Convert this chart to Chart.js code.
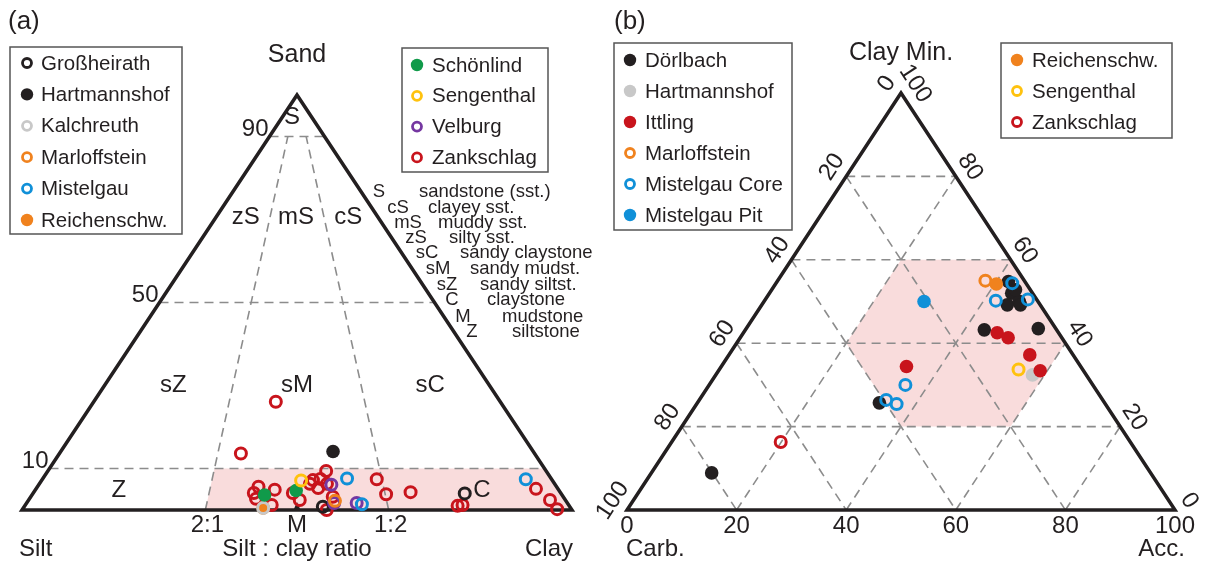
<!DOCTYPE html>
<html>
<head>
<meta charset="utf-8">
<script src="https://cdn.jsdelivr.net/npm/chart.js@4.4.1/dist/chart.umd.min.js"></script>
<style>
html, body { margin: 0; padding: 0; background: #fff; }
#wrap { position: relative; width: 1210px; height: 562px; }
#wrap canvas { position: absolute; top: 0; }
#chartA { left: 0; }
#chartB { left: 590px; }
</style>
</head>
<body>
<div id="wrap">
  <canvas id="chartA" width="600" height="562"></canvas>
  <canvas id="chartB" width="620" height="562"></canvas>
</div>
<script>
// ---- panel (a): grain size, [sand, silt, clay] in %
const aGrossheirath = [[0.8, 44.9, 54.3], [4.0, 17.5, 78.5]];
const aHartmannshof = [[14.1, 36.4, 49.5]];
const aKalchreuth = [[0.5, 55.9, 43.6]];
const aMarloffstein = [[2.2, 42.0, 55.8]];
const aMistelgau = [[7.6, 37.1, 55.3], [1.4, 37.5, 61.1], [7.4, 4.7, 87.9]];
const aReichenschw = [[0.5, 55.9, 43.6]];
const aSchoenlind = [[3.6, 54.1, 42.3], [4.7, 47.8, 47.5]];
const aSengenthal = [[7.1, 45.7, 47.2]];
const aVelburg = [[6.1, 40.7, 53.2], [1.7, 42.4, 55.9], [1.7, 38.3, 60.0]];
const aZankschlag = [
  [26.1, 40.8, 33.1], [13.6, 53.4, 33.0], [9.4, 40.0, 50.6], [7.2, 43.5, 49.3],
  [7.5, 42.0, 50.5], [6.3, 41.4, 52.3], [5.3, 43.5, 51.2], [6.3, 44.5, 49.2],
  [2.4, 48.3, 49.3], [4.1, 48.7, 47.2], [5.6, 54.2, 40.2], [4.9, 51.6, 43.5],
  [2.7, 56.1, 41.2], [1.2, 54.0, 44.8], [4.1, 55.8, 40.1], [3.2, 41.9, 54.9],
  [0.0, 44.6, 55.4], [7.4, 31.8, 60.8], [3.8, 31.9, 64.3], [4.3, 27.2, 68.5],
  [1.0, 20.3, 78.7], [1.2, 19.3, 79.5], [5.1, 4.0, 90.9], [2.4, 2.8, 94.8],
  [0.2, 2.6, 97.2]
];
const sandLines = [10, 50, 90];
const ratioLines = [1 / 3, 2 / 3];          // clay share of silt+clay
const ratioLabels = ['2:1', '1:2'];
const abbrCodes = ['S', 'cS', 'mS', 'zS', 'sC', 'sM', 'sZ', 'C', 'M', 'Z'];
const abbrNames = ['sandstone (sst.)', 'clayey sst.', 'muddy sst.', 'silty sst.', 'sandy claystone',
  'sandy mudst.', 'sandy siltst.', 'claystone', 'mudstone', 'siltstone'];
const legendA1 = ['Großheirath', 'Hartmannshof', 'Kalchreuth', 'Marloffstein', 'Mistelgau', 'Reichenschw.'];
const legendA2 = ['Schönlind', 'Sengenthal', 'Velburg', 'Zankschlag'];

// ---- panel (b): mineralogy, [carb, clay min, acc] in %
const bDoerlbach = [[3.0, 54.8, 42.2], [3.8, 52.0, 44.2], [6.0, 49.2, 44.8], [3.4, 50.0, 46.6],
  [2.7, 52.8, 44.5], [3.6, 49.2, 47.2], [13.2, 43.2, 43.6], [3.2, 43.5, 53.3],
  [41.1, 25.7, 33.2], [80.1, 8.9, 11.0]];
const bHartmannshof = [[9.8, 32.4, 57.8]];
const bIttling = [[11.2, 42.5, 46.3], [9.8, 41.3, 48.9], [7.9, 37.2, 54.9], [7.9, 33.4, 58.7], [31.8, 34.4, 33.8]];
const bMarloffstein = [[7.1, 55.0, 37.9]];
const bMistelgauCore = [[2.5, 54.4, 43.1], [7.6, 50.2, 42.2], [1.6, 50.5, 47.9],
  [34.2, 30.0, 35.8], [39.5, 26.4, 34.1], [38.1, 25.4, 36.5]];
const bMistelgauPit = [[20.8, 50.0, 29.2]];
const bReichenschw = [[5.5, 54.2, 40.3]];
const bSengenthal = [[11.7, 33.7, 54.6]];
const bZankschlag = [[63.8, 16.3, 19.9]];
const gridSteps = [20, 40, 60, 80];
const tickSteps = [0, 20, 40, 60, 80, 100];
const hexB = [[20, 60, 20], [0, 60, 40], [0, 40, 60], [20, 20, 60], [40, 20, 40], [40, 40, 20]];
const legendB1 = ['Dörlbach', 'Hartmannshof', 'Ittling', 'Marloffstein', 'Mistelgau Core', 'Mistelgau Pit'];
const legendB2 = ['Reichenschw.', 'Sengenthal', 'Zankschlag'];

const FONT = '"Liberation Sans", Arial, Helvetica, sans-serif';
const INK = '#231f20';
const BLACK = '#231f20', GRAY = '#c8c8c8', RED = '#c8141c', ORANGE = '#f0821e',
  BLUE = '#1090d8', GREEN = '#109a4a', YELLOW = '#ffc20e', PURPLE = '#7537a1';
const PINK = '#f9dcdc';

// ternary -> plot units (x 0..100 across base, y 0..100 up to apex)
const toA = p => ({ x: p[2] + p[0] / 2, y: p[0] });
const toB = p => ({ x: p[2] + p[1] / 2, y: p[1] });

function site(label, pts, color, hollow, order, conv) {
  return {
    label: label,
    data: pts.map(conv),
    hollow: hollow,
    color: color,
    order: order,
    clip: false,
    pointRadius: hollow ? 5.5 : 6.8,
    pointBorderWidth: hollow ? 3 : 0,
    pointBackgroundColor: hollow ? 'rgba(0,0,0,0)' : color,
    pointBorderColor: color
  };
}

function px(chart, x, y) {
  return [chart.scales.x.getPixelForValue(x), chart.scales.y.getPixelForValue(y)];
}

function poly(ctx, pts) {
  ctx.beginPath();
  pts.forEach((p, i) => i ? ctx.lineTo(p[0], p[1]) : ctx.moveTo(p[0], p[1]));
  ctx.closePath();
}

function seg(ctx, a, b) {
  ctx.beginPath();
  ctx.moveTo(a[0], a[1]);
  ctx.lineTo(b[0], b[1]);
  ctx.stroke();
}

function text(ctx, s, x, y, size, align, base) {
  ctx.font = size + 'px ' + FONT;
  ctx.fillStyle = INK;
  ctx.textAlign = align || 'center';
  ctx.textBaseline = base || 'middle';
  ctx.fillText(s, x, y);
}

function drawLegend(chart, names, box, y0, step, mx, tx) {
  const ctx = chart.ctx;
  ctx.save();
  ctx.lineWidth = 1.5;
  ctx.strokeStyle = '#555';
  ctx.strokeRect(box[0], box[1], box[2], box[3]);
  names.forEach((name, i) => {
    const ds = chart.data.datasets.find(d => d.label === name);
    const y = y0 + i * step;
    ctx.beginPath();
    if (ds.hollow) {
      ctx.arc(mx, y, 4.5, 0, Math.PI * 2);
      ctx.lineWidth = 2.8;
      ctx.strokeStyle = ds.color;
      ctx.stroke();
    } else {
      ctx.arc(mx, y, 6.2, 0, Math.PI * 2);
      ctx.fillStyle = ds.color;
      ctx.fill();
    }
    text(ctx, name, tx, y + 1, 20.5, 'left');
  });
  ctx.restore();
}

const plotA = {
  id: 'plotA',
  beforeDatasetsDraw(chart) {
    const ctx = chart.ctx;
    ctx.save();
    // pink field: sand < 10 %, silt:clay below 2:1
    const r = ratioLines[0] * 100;
    poly(ctx, [px(chart, r, 0), px(chart, r * 0.9 + 5, 10), px(chart, 95, 10), px(chart, 100, 0)]);
    ctx.fillStyle = PINK;
    ctx.fill();
    // dashed class boundaries
    ctx.setLineDash([9, 6]);
    ctx.lineWidth = 1.6;
    ctx.strokeStyle = '#8c8c8c';
    sandLines.forEach(s => seg(ctx, px(chart, s / 2, s), px(chart, 100 - s / 2, s)));
    ratioLines.forEach(q => seg(ctx, px(chart, q * 100, 0), px(chart, q * 10 + 45, 90)));
    // outline
    ctx.setLineDash([]);
    ctx.lineWidth = 3.5;
    ctx.lineJoin = 'miter';
    ctx.strokeStyle = INK;
    poly(ctx, [px(chart, 0, 0), px(chart, 50, 100), px(chart, 100, 0)]);
    ctx.stroke();
    // M marker
    const m = px(chart, 50, 0);
    ctx.fillStyle = INK;
    poly(ctx, [[m[0], m[1] - 8], [m[0] - 3.5, m[1]], [m[0] + 3.5, m[1]]]);
    ctx.fill();
    ctx.restore();
  },
  afterDraw(chart) {
    const ctx = chart.ctx;
    ctx.save();
    text(ctx, '(a)', 8, 22, 26, 'left');
    const apex = px(chart, 50, 100);
    text(ctx, 'Sand', apex[0], apex[1] - 40, 25);
    sandLines.forEach(s => {
      const p = px(chart, s / 2, s);
      text(ctx, String(s), p[0] - 1, p[1] - 1, 24, 'right', 'alphabetic');
    });
    ratioLines.forEach((q, i) => {
      const p = px(chart, q * 100, 0);
      text(ctx, ratioLabels[i], p[0] + 2, p[1] + 15, 24);
    });
    const mid = px(chart, 50, 0);
    text(ctx, 'M', mid[0], mid[1] + 15, 24);
    text(ctx, 'Silt : clay ratio', mid[0], mid[1] + 39, 24);
    const l = px(chart, 0, 0), rr = px(chart, 100, 0);
    text(ctx, 'Silt', l[0] - 3, l[1] + 39, 24, 'left');
    text(ctx, 'Clay', rr[0] + 1, rr[1] + 39, 24, 'right');
    // class names in the fields
    [['S', 49.1, 94.6], ['zS', 40.7, 70.4], ['mS', 49.8, 70.4], ['cS', 59.3, 70.4],
     ['sZ', 27.5, 30.1], ['sM', 50, 30.1], ['sC', 74.2, 30.1], ['Z', 17.6, 4.8], ['C', 83.6, 4.8]]
      .forEach(t => {
        const p = px(chart, t[1], t[2]);
        text(ctx, t[0], p[0], p[1], 24);
      });
    // abbreviation key
    const codeX = [379, 398, 408, 416, 427, 438, 447, 452, 463, 472];
    const nameX = [419, 428, 438, 449, 460, 470, 480, 487, 502, 512];
    const keyY = [192, 208, 223, 238, 253, 269, 285, 300, 317, 332];
    abbrCodes.forEach((c, i) => {
      text(ctx, c, codeX[i], keyY[i], 18.5);
      text(ctx, abbrNames[i], nameX[i], keyY[i], 18.5, 'left');
    });
    drawLegend(chart, legendA1, [10, 47, 172, 187], 63, 31.4, 27, 41);
    drawLegend(chart, legendA2, [402, 48, 146, 124], 65, 30.8, 417, 432);
    ctx.restore();
  }
};

const plotB = {
  id: 'plotB',
  beforeDatasetsDraw(chart) {
    const ctx = chart.ctx;
    const T = p => { const u = toB(p); return px(chart, u.x, u.y); };
    ctx.save();
    poly(ctx, hexB.map(T));
    ctx.fillStyle = PINK;
    ctx.fill();
    ctx.setLineDash([9, 6]);
    ctx.lineWidth = 1.6;
    ctx.strokeStyle = '#8c8c8c';
    gridSteps.forEach(v => {
      seg(ctx, T([100 - v, v, 0]), T([0, v, 100 - v]));   // clay min.
      seg(ctx, T([v, 100 - v, 0]), T([v, 0, 100 - v]));   // carb.
      seg(ctx, T([100 - v, 0, v]), T([0, 100 - v, v]));   // acc.
    });
    ctx.setLineDash([]);
    ctx.lineWidth = 3.5;
    ctx.strokeStyle = INK;
    poly(ctx, [T([100, 0, 0]), T([0, 100, 0]), T([0, 0, 100])]);
    ctx.stroke();
    ctx.restore();
  },
  afterDraw(chart) {
    const ctx = chart.ctx;
    const T = p => { const u = toB(p); return px(chart, u.x, u.y); };
    const off = 15;   // canvas starts 15px left of the panel
    ctx.save();
    text(ctx, '(b)', off + 9, 22, 26, 'left');
    const A = T([100, 0, 0]), C = T([0, 100, 0]), B = T([0, 0, 100]);
    text(ctx, 'Clay Min.', C[0], C[1] - 40, 25);
    text(ctx, 'Carb.', A[0] - 1, A[1] + 39, 24, 'left');
    text(ctx, 'Acc.', B[0] + 10, B[1] + 39, 24, 'right');
    // edge ticks, rotated along the edge
    const edgeLabels = (from, to, pt) => {
      const dx = to[0] - from[0], dy = to[1] - from[1], len = Math.hypot(dx, dy);
      const ux = dx / len, uy = dy / len, ang = Math.atan2(uy, ux);
      tickSteps.forEach(v => {
        const p = pt(v);
        ctx.save();
        ctx.translate(p[0] + uy * 17, p[1] - ux * 17);
        ctx.rotate(ang);
        text(ctx, String(v), 0, 0, 24);
        ctx.restore();
      });
    };
    edgeLabels(A, C, v => T([v, 100 - v, 0]));
    edgeLabels(C, B, v => T([0, v, 100 - v]));
    tickSteps.forEach(v => {
      const p = T([100 - v, 0, v]);
      text(ctx, String(v), p[0], p[1] + 16, 24);
    });
    drawLegend(chart, legendB1, [off + 9, 43, 178, 187], 60, 31, off + 25, off + 40);
    drawLegend(chart, legendB2, [off + 396, 43, 171, 95], 60, 31, off + 412, off + 427);
    ctx.restore();
  }
};

function makeChart(id, datasets, padding, plugin) {
  return new Chart(document.getElementById(id).getContext('2d'), {
    type: 'scatter',
    data: { datasets: datasets },
    options: {
      responsive: false,
      animation: false,
      events: [],
      layout: { padding: padding },
      scales: {
        x: { type: 'linear', min: 0, max: 100, display: false },
        y: { type: 'linear', min: 0, max: 100, display: false }
      },
      plugins: { legend: { display: false }, tooltip: { enabled: false } }
    },
    plugins: [plugin]
  });
}

makeChart('chartA', [
  site('Zankschlag', aZankschlag, RED, true, 10, toA),
  site('Großheirath', aGrossheirath, BLACK, true, 9, toA),
  site('Hartmannshof', aHartmannshof, BLACK, false, 8, toA),
  site('Reichenschw.', aReichenschw, ORANGE, false, 7, toA),
  site('Kalchreuth', aKalchreuth, GRAY, true, 6, toA),
  site('Velburg', aVelburg, PURPLE, true, 5, toA),
  site('Marloffstein', aMarloffstein, ORANGE, true, 4, toA),
  site('Mistelgau', aMistelgau, BLUE, true, 3, toA),
  site('Schönlind', aSchoenlind, GREEN, false, 2, toA),
  site('Sengenthal', aSengenthal, YELLOW, true, 1, toA)
], { left: 22, right: 28, top: 95, bottom: 52 }, plotA);

makeChart('chartB', [
  site('Hartmannshof', bHartmannshof, GRAY, false, 10, toB),
  site('Dörlbach', bDoerlbach, BLACK, false, 9, toB),
  site('Marloffstein', bMarloffstein, ORANGE, true, 8, toB),
  site('Reichenschw.', bReichenschw, ORANGE, false, 7, toB),
  site('Ittling', bIttling, RED, false, 6, toB),
  site('Sengenthal', bSengenthal, YELLOW, true, 5, toB),
  site('Mistelgau Pit', bMistelgauPit, BLUE, false, 4, toB),
  site('Mistelgau Core', bMistelgauCore, BLUE, true, 3, toB),
  site('Zankschlag', bZankschlag, RED, true, 2, toB)
], { left: 37, right: 35, top: 93, bottom: 52 }, plotB);
</script>
</body>
</html>
